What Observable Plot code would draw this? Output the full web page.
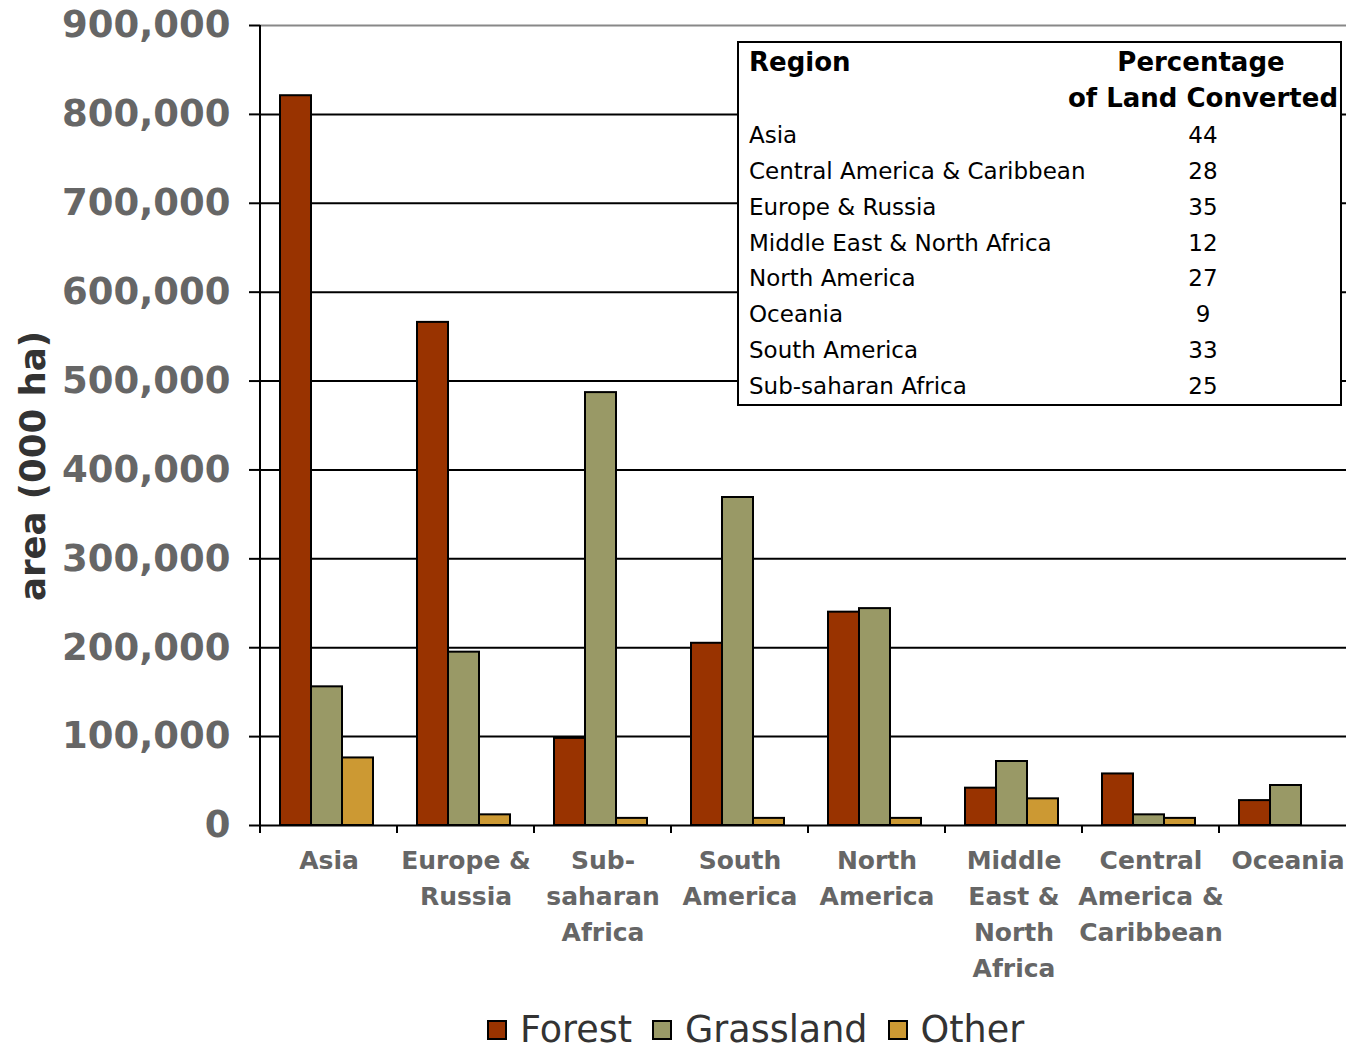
<!DOCTYPE html>
<html><head><meta charset="utf-8">
<script src="https://cdn.jsdelivr.net/npm/d3@7"></script>
<script src="https://cdn.jsdelivr.net/npm/@observablehq/plot@0.6"></script>
<style>
body{margin:0;background:#fff;font-family:"DejaVu Sans",sans-serif;overflow:hidden;}
#wrap{position:relative;width:1346px;height:1050px;overflow:hidden;}
#wrap svg{max-width:none !important;}
#ytitle{position:absolute;left:-167px;top:446px;width:400px;height:40px;line-height:40px;text-align:center;transform:rotate(-90deg);font-weight:bold;font-size:35.5px;color:#333;}
#table{position:absolute;left:737px;top:41px;width:601px;height:361px;border:2px solid #000;background:#fff;color:#000;}
#table .row{position:absolute;left:0;width:100%;height:36px;line-height:36px;font-size:23px;}
#table .reg{position:absolute;left:10px;white-space:nowrap;}
#table .num{position:absolute;left:414px;width:100px;text-align:center;}
#table .hdr{font-weight:bold;font-size:26px;}
#legend{position:absolute;left:0;top:1010px;height:40px;line-height:40px;display:flex;align-items:center;padding-left:487px;font-size:36.5px;color:#333;}
#legend .sw{width:16px;height:16px;border:2px solid #000;margin-right:13px;}
#legend .lab{margin-right:20px;}
</style></head><body><div id="wrap"><div id="ytitle">area (000 ha)</div></div>
<script>
const regions = ["Asia","Europe & Russia","Sub-saharan Africa","South America","North America","Middle East & North Africa","Central America & Caribbean","Oceania"];
const regionLabels = ["Asia","Europe &\nRussia","Sub-\nsaharan\nAfrica","South\nAmerica","North\nAmerica","Middle\nEast &\nNorth\nAfrica","Central\nAmerica &\nCaribbean","Oceania"];
const types = ["Forest","Grassland","Other"];
const forest = [821000,566000,98000,205000,240000,42000,58000,28000];
const grassland = [156000,195000,487000,369000,244000,72000,12000,45000];
const other = [76000,12000,8000,8000,8000,30000,8000,0];
const colors = ["#993300","#999966","#CC9933"];
const yTicks = [0,100000,200000,300000,400000,500000,600000,700000,800000,900000];
const tableRegions = ["Asia","Central America & Caribbean","Europe & Russia","Middle East & North Africa","North America","Oceania","South America","Sub-saharan Africa"];
const tablePercent = [44,28,35,12,27,9,33,25];

const series = [forest, grassland, other];
const data = regions.flatMap((r, i) => types.map((t, j) => ({region: r, type: t, value: series[j][i]})));

const chart = Plot.plot({
  width: 1358, height: 1000,
  marginLeft: 258, marginRight: 0, marginTop: 25, marginBottom: 175,
  style: {fontFamily: "DejaVu Sans", background: "transparent", maxWidth: "none"},
  fx: {domain: regions, padding: 0, axis: null},
  x: {domain: types, paddingInner: 0, paddingOuter: 0.68, align: 0.465, axis: null},
  y: {domain: [0, 900000], axis: null},
  color: {domain: types, range: colors},
  marks: [
    Plot.gridY(yTicks.filter(d => d > 0 && d < 900000), {stroke: "#000", strokeOpacity: 1, strokeWidth: 2}),
    Plot.ruleY([900000], {stroke: "#888", strokeWidth: 2}),
    Plot.barY(data, {fx: "region", x: "type", y: "value", fill: "type", stroke: "#000", strokeWidth: 2}),
    Plot.ruleY([0], {stroke: "#000", strokeWidth: 2}),
    Plot.axisY({ticks: yTicks, tickFormat: d3.format(","), tickSize: 11, tickPadding: 19, fontSize: 37, fontWeight: "bold", fill: "#666", stroke: "#000", strokeWidth: 2, label: null}),
    Plot.axisFx({anchor: "bottom", label: null, tickSize: 0, tickPadding: 18, tickFormat: d => regionLabels[regions.indexOf(d)], fontSize: 25, fontWeight: "bold", fill: "#666", lineHeight: 1.44})
  ]
});
chart.style.maxWidth = "none";
chart.style.width = "1358px";
chart.style.height = "1000px";
const wrap = document.getElementById("wrap");
wrap.insertBefore(chart, wrap.firstChild);

// axis line and category separator ticks from the library scales
const fxs = chart.scale("fx"), ys = chart.scale("y");
const svg = d3.select(chart);
const g = svg.append("g").attr("stroke", "#000").attr("stroke-width", 2);
const y0 = ys.apply(0), yTop = ys.apply(900000);
const x0 = fxs.apply(regions[0]);
g.append("line").attr("x1", x0).attr("x2", x0).attr("y1", yTop).attr("y2", y0 + 8);
regions.forEach(r => {
  const x = fxs.apply(r);
  g.append("line").attr("x1", x).attr("x2", x).attr("y1", y0).attr("y2", y0 + 8);
});

// inset table
const table = document.createElement("div");
table.id = "table";
const rowH = 35.9;
const top0 = 1;
const h1 = document.createElement("div");
h1.className = "row hdr"; h1.style.top = top0 + "px";
h1.innerHTML = '<span class="reg">Region</span><span style="position:absolute;left:332px;width:260px;text-align:center;">Percentage</span>';
table.appendChild(h1);
const h2 = document.createElement("div");
h2.className = "row hdr"; h2.style.top = (top0 + rowH) + "px";
h2.innerHTML = '<span style="position:absolute;right:2px;white-space:nowrap;">of Land Converted</span>';
table.appendChild(h2);
tableRegions.forEach((r, i) => {
  const row = document.createElement("div");
  row.className = "row";
  row.style.top = (top0 + 1 + rowH * (i + 2)) + "px";
  const a = document.createElement("span"); a.className = "reg"; a.textContent = r;
  const b = document.createElement("span"); b.className = "num"; b.textContent = tablePercent[i];
  row.appendChild(a); row.appendChild(b);
  table.appendChild(row);
});
wrap.appendChild(table);

// legend
const legend = document.createElement("div");
legend.id = "legend";
types.forEach((t, i) => {
  const sw = document.createElement("div"); sw.className = "sw"; sw.style.background = colors[i];
  const lab = document.createElement("span"); lab.className = "lab"; lab.textContent = t;
  legend.appendChild(sw); legend.appendChild(lab);
});
wrap.appendChild(legend);
</script></body></html>
